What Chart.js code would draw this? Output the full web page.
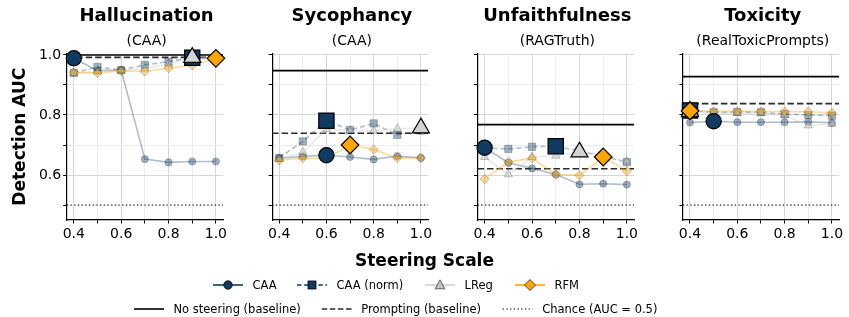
<!DOCTYPE html>
<html><head><meta charset="utf-8">
<script src="https://cdn.jsdelivr.net/npm/chart.js@4.4.1/dist/chart.umd.min.js"></script>
<style>
html,body{margin:0;padding:0;background:#fff;overflow:hidden;width:849px;height:317px;position:relative;}
canvas{position:absolute;top:0;}
#overlay{position:absolute;left:0;top:0;}
</style></head><body>
<canvas id="c0"></canvas><canvas id="c1"></canvas><canvas id="c2"></canvas><canvas id="c3"></canvas>
<svg id="overlay" width="849" height="317" xmlns="http://www.w3.org/2000/svg" font-family="DejaVu Sans"></svg>
<script>
// ---------- DATA ----------
const steeringScales = [0.4, 0.5, 0.6, 0.7, 0.8, 0.9, 1.0];
const panelTitles = ['Hallucination', 'Sycophancy', 'Unfaithfulness', 'Toxicity'];
const panelSubtitles = ['(CAA)', '(CAA)', '(RAGTruth)', '(RealToxicPrompts)'];
const methodNames = ['CAA', 'CAA (norm)', 'LReg', 'RFM'];
const baselineNames = ['No steering (baseline)', 'Prompting (baseline)', 'Chance (AUC = 0.5)'];

const caaHallucination     = [0.989, 0.948, 0.950, 0.653, 0.642, 0.645, 0.645];
const caaNormHallucination = [0.940, 0.960, 0.950, 0.967, 0.978, 0.991, 0.988];
const lregHallucination    = [0.940, 0.945, 0.948, 0.955, 0.970, 0.992, 0.990];
const rfmHallucination     = [0.942, 0.940, 0.947, 0.945, 0.956, 0.966, 0.989];

const caaSycophancy     = [0.656, 0.662, 0.666, 0.660, 0.652, 0.663, 0.657];
const caaNormSycophancy = [0.657, 0.712, 0.781, 0.750, 0.772, 0.734, 0.748];
const lregSycophancy    = [0.654, 0.676, 0.753, 0.748, 0.748, 0.754, 0.757];
const rfmSycophancy     = [0.649, 0.656, 0.656, 0.700, 0.685, 0.657, 0.657];

const caaUnfaithfulness     = [0.691, 0.641, 0.622, 0.602, 0.569, 0.571, 0.568];
const caaNormUnfaithfulness = [0.690, 0.687, 0.694, 0.696, 0.680, 0.662, 0.643];
const lregUnfaithfulness    = [0.660, 0.602, 0.660, 0.664, 0.677, 0.665, 0.645];
const rfmUnfaithfulness     = [0.587, 0.643, 0.656, 0.602, 0.599, 0.660, 0.613];

const caaToxicity     = [0.775, 0.779, 0.776, 0.776, 0.776, 0.777, 0.774];
const caaNormToxicity = [0.815, 0.809, 0.810, 0.809, 0.803, 0.800, 0.798];
const lregToxicity    = [0.812, 0.806, 0.806, 0.806, 0.800, 0.765, 0.770];
const rfmToxicity     = [0.814, 0.812, 0.812, 0.812, 0.811, 0.811, 0.807];

const noSteeringAUC = [1.000, 0.948, 0.768, 0.928];
const promptingAUC  = [0.992, 0.739, 0.621, 0.838];
const chanceAUC = 0.5;

const xTickValues = [0.4, 0.5, 0.6, 0.7, 0.8, 0.9, 1.0];
const xTickLabels = ['0.4', '0.6', '0.8', '1.0'];
const yTickValues = [0.5, 0.6, 0.7, 0.8, 0.9, 1.0];
const yTickLabels = ['0.6', '0.8', '1.0'];

const panelSeries = [
  [caaHallucination, caaNormHallucination, lregHallucination, rfmHallucination],
  [caaSycophancy, caaNormSycophancy, lregSycophancy, rfmSycophancy],
  [caaUnfaithfulness, caaNormUnfaithfulness, lregUnfaithfulness, rfmUnfaithfulness],
  [caaToxicity, caaNormToxicity, lregToxicity, rfmToxicity]
];

// ---------- LAYOUT / STYLE ----------
const X_MIN = 0.37, X_MAX = 1.03, Y_MIN = 0.45, Y_MAX = 1.005;
const panelLeft = [66.7, 272.1, 477.5, 682.9];
const PLOT_W = 159.7, TOP = 53.5, BOTTOM = 220, CANVAS_H = 245, Y_AXIS_W = 60, RIGHT_PAD = 8;
const FONT = 'DejaVu Sans';

const NAVY = [15, 59, 97];
const methodStyles = [
  {rgb: NAVY, line: 'rgba(15,59,97,0.33)', style: 'circle', dash: [], smallR: 3.6, bigR: 7.6, bigFill: 'rgb(15,59,97)'},
  {rgb: NAVY, line: 'rgba(15,59,97,0.33)', style: 'rect', dash: [5, 3], smallR: 5.2, bigR: 10.8, bigFill: 'rgb(15,59,97)'},
  {rgb: [190,190,190], line: 'rgba(200,200,200,0.4)', style: 'triangle', dash: [], smallR: 4.8, bigR: 9.8, bigFill: 'rgb(211,211,211)'},
  {rgb: [255,165,0], line: 'rgba(255,165,0,0.4)', style: 'rectRot', dash: [], smallR: 4.6, bigR: 8.8, bigFill: 'rgb(255,165,0)'}
];

function rgba(c, a) { return `rgba(${c[0]},${c[1]},${c[2]},${a})`; }
function bestIndex(arr) { let b = 0; arr.forEach((v, i) => { if (v > arr[b]) b = i; }); return b; }
function isLabelled(v, labels) { return labels.includes(Number(v).toFixed(1)); }

function makePanel(i) {
  const cv = document.getElementById('c' + i);
  const canvasLeft = Math.floor(panelLeft[i] - Y_AXIS_W);
  const yW = panelLeft[i] - canvasLeft;
  const w = Math.ceil(yW + PLOT_W + RIGHT_PAD);
  cv.width = w; cv.height = CANVAS_H;
  cv.style.left = canvasLeft + 'px';
  cv.style.width = w + 'px'; cv.style.height = CANVAS_H + 'px';
  const rightPad = w - yW - PLOT_W;

  const datasets = [];
  const hline = (y, color, width, dash, order) => ({
    data: [{x: X_MIN, y: y}, {x: X_MAX, y: y}], showLine: true, borderColor: color, borderWidth: width,
    borderDash: dash, pointRadius: 0, pointHoverRadius: 0, order: order, clip: false
  });
  datasets.push(hline(chanceAUC, '#000', 1.1, [1.3, 2.4], 100));
  datasets.push(hline(noSteeringAUC[i], '#000', 1.6, [], 99));
  datasets.push(hline(promptingAUC[i], '#2b2b2b', 1.6, [6.5, 3], 98));

  panelSeries[i].forEach((vals, m) => {
    const st = methodStyles[m];
    datasets.push({
      data: steeringScales.map((x, j) => ({x: x, y: vals[j]})),
      showLine: true, borderColor: st.line, borderWidth: 1.6, borderDash: st.dash,
      pointStyle: st.style, pointRadius: st.smallR, pointHoverRadius: st.smallR,
      pointBackgroundColor: rgba(st.rgb, 0.4), pointBorderColor: 'rgba(40,40,40,0.3)', pointBorderWidth: 0.9,
      order: 90 - m, clip: false
    });
  });
  panelSeries[i].forEach((vals, m) => {
    const st = methodStyles[m];
    const b = bestIndex(vals);
    datasets.push({
      data: [{x: steeringScales[b], y: vals[b]}],
      showLine: false, pointStyle: st.style, pointRadius: st.bigR, pointHoverRadius: st.bigR,
      pointBackgroundColor: st.bigFill, pointBorderColor: '#000', pointBorderWidth: 1.2,
      order: 10 - m, clip: false
    });
  });

  const gridColor = (labels) => (ctx) => (ctx.tick && isLabelled(ctx.tick.value, labels)) ? '#d6d6d6' : '#ececec';

  new Chart(cv, {
    type: 'scatter',
    data: {datasets: datasets},
    options: {
      responsive: false, animation: false, devicePixelRatio: 1,
      layout: {padding: {top: TOP, right: rightPad, left: 0, bottom: 0}},
      plugins: {legend: {display: false}, tooltip: {enabled: false}, title: {display: false}},
      events: [],
      scales: {
        x: {
          type: 'linear', min: X_MIN, max: X_MAX,
          afterBuildTicks: s => { s.ticks = xTickValues.map(v => ({value: v})); },
          afterFit: s => { s.height = CANVAS_H - BOTTOM; },
          ticks: {
            autoSkip: false, maxRotation: 0, minRotation: 0, padding: 2, color: '#000',
            font: {family: FONT, size: 14},
            callback: v => isLabelled(v, xTickLabels) ? Number(v).toFixed(1) : ''
          },
          grid: {color: gridColor(xTickLabels), lineWidth: 1, tickLength: 3.5, tickColor: '#000', tickWidth: 1},
          border: {display: true, color: '#000', width: 1.2}
        },
        y: {
          type: 'linear', min: Y_MIN, max: Y_MAX,
          afterBuildTicks: s => { s.ticks = yTickValues.map(v => ({value: v})); },
          afterFit: s => { s.width = yW; },
          ticks: {
            padding: 2, color: '#000', font: {family: FONT, size: 14},
            callback: v => (i === 0 && isLabelled(v, yTickLabels)) ? Number(v).toFixed(1) : ''
          },
          grid: {color: gridColor(yTickLabels), lineWidth: 1, tickLength: 3.5, tickColor: '#000', tickWidth: 1},
          border: {display: true, color: '#000', width: 1.2}
        }
      }
    }
  });
}
for (let i = 0; i < 4; i++) makePanel(i);

// ---------- TEXT / LEGEND OVERLAY ----------
const svg = document.getElementById('overlay');
const NS = 'http://www.w3.org/2000/svg';
function el(tag, attrs, text) {
  const e = document.createElementNS(NS, tag);
  for (const k in attrs) e.setAttribute(k, attrs[k]);
  if (text !== undefined) e.textContent = text;
  svg.appendChild(e);
  return e;
}
panelTitles.forEach((t, i) => {
  const cx = panelLeft[i] + PLOT_W / 2;
  el('text', {x: cx, y: 20.7, 'text-anchor': 'middle', 'font-size': 18, 'font-weight': 'bold'}, t);
  el('text', {x: cx, y: 45, 'text-anchor': 'middle', 'font-size': 14}, panelSubtitles[i]);
});
el('text', {transform: 'translate(25,136.7) rotate(-90)', 'text-anchor': 'middle', 'font-size': 17, 'font-weight': 'bold'}, 'Detection AUC');
el('text', {x: 424.5, y: 266, 'text-anchor': 'middle', 'font-size': 17, 'font-weight': 'bold'}, 'Steering Scale');

const LEG_FS = 11.5;
const row1 = 285, row2 = 309;
const handle1 = [213, 297, 425, 515];
handle1.forEach((hx, m) => {
  const cx = hx + 15;
  if (m === 0) {
    el('line', {x1: hx, x2: hx + 30, y1: row1, y2: row1, stroke: 'rgb(15,59,97)', 'stroke-width': 1.6});
    el('circle', {cx: cx, cy: row1, r: 4.2, fill: 'rgb(15,59,97)', stroke: '#000', 'stroke-width': 0.8});
  } else if (m === 1) {
    el('line', {x1: hx, x2: hx + 30, y1: row1, y2: row1, stroke: 'rgb(15,59,97)', 'stroke-width': 1.6, 'stroke-dasharray': '4.5,2.6'});
    el('rect', {x: cx - 4, y: row1 - 4, width: 8, height: 8, fill: 'rgb(15,59,97)', stroke: '#000', 'stroke-width': 0.8});
  } else if (m === 2) {
    el('line', {x1: hx, x2: hx + 30, y1: row1, y2: row1, stroke: '#d9d9d9', 'stroke-width': 2});
    el('polygon', {points: `${cx},${row1 - 5.2} ${cx + 4.8},${row1 + 3.8} ${cx - 4.8},${row1 + 3.8}`, fill: '#c4c4c4', stroke: '#444', 'stroke-width': 0.8});
  } else {
    el('line', {x1: hx, x2: hx + 30, y1: row1, y2: row1, stroke: 'rgb(255,165,0)', 'stroke-width': 1.6});
    el('polygon', {points: `${cx},${row1 - 5.5} ${cx + 5.5},${row1} ${cx},${row1 + 5.5} ${cx - 5.5},${row1}`, fill: 'rgb(255,165,0)', stroke: '#222', 'stroke-width': 0.8});
  }
  el('text', {x: hx + 39.5, y: row1, 'dominant-baseline': 'central', 'font-size': LEG_FS}, methodNames[m]);
});
const handle2 = [134, 321.7, 502.7];
handle2.forEach((hx, k) => {
  const attrs = {x1: hx, x2: hx + 30, y1: row2, y2: row2, stroke: '#000', 'stroke-width': 1.6};
  if (k === 1) { attrs.stroke = '#2b2b2b'; attrs['stroke-dasharray'] = '5.5,2.6'; }
  if (k === 2) { attrs['stroke-width'] = 1.1; attrs['stroke-dasharray'] = '1.3,2.4'; }
  el('line', attrs);
  el('text', {x: hx + 39.5, y: row2, 'dominant-baseline': 'central', 'font-size': LEG_FS}, baselineNames[k]);
});
</script>
</body></html>
